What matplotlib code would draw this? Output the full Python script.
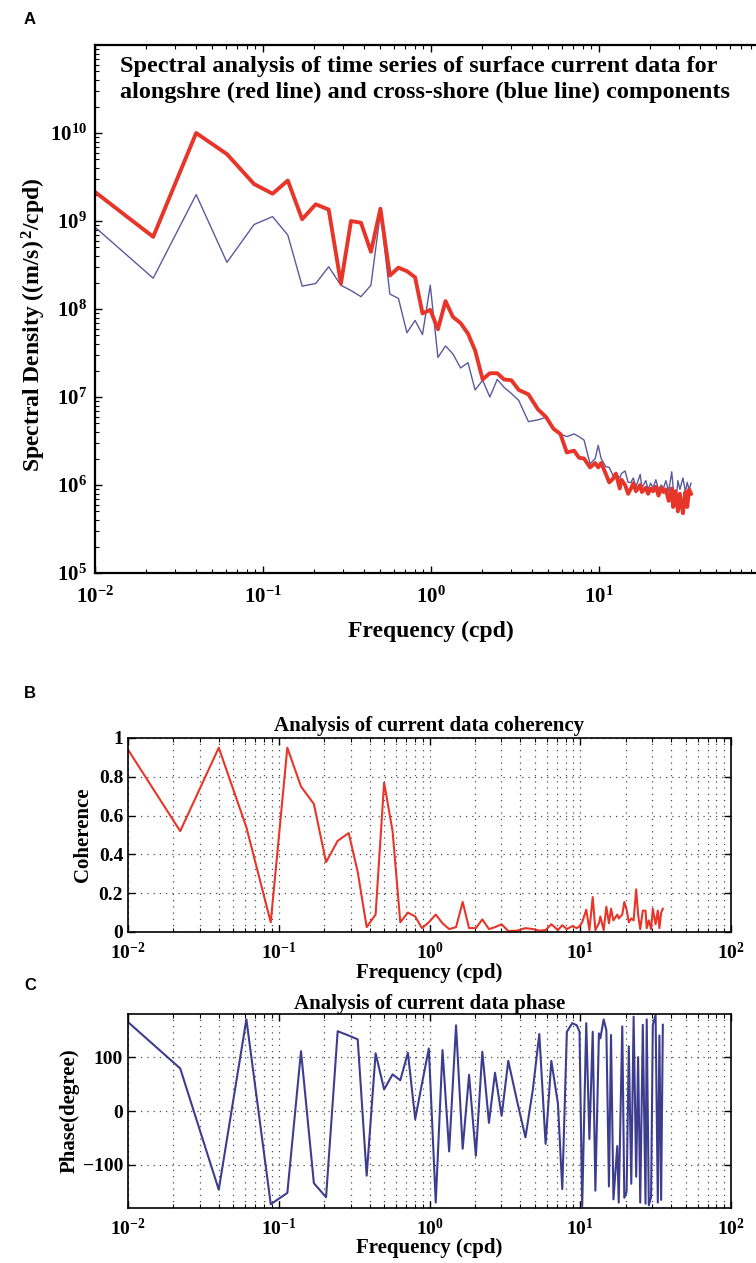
import numpy as np
import matplotlib
matplotlib.use('Agg')
from matplotlib import pyplot as plt
from matplotlib.ticker import LogLocator, NullFormatter, FixedLocator

plt.rcParams['font.family'] = ['Liberation Serif', 'DejaVu Serif']
plt.rcParams['font.weight'] = 'bold'
plt.rcParams['axes.labelweight'] = 'bold'
plt.rcParams['axes.titleweight'] = 'bold'
plt.rcParams['mathtext.fontset'] = 'custom'
plt.rcParams['mathtext.rm'] = 'Liberation Serif:bold'
plt.rcParams['mathtext.it'] = 'Liberation Serif:bold'
plt.rcParams['mathtext.bf'] = 'Liberation Serif:bold'

# frequency (cpd), shared by all three panels
freq = [0.01, 0.0222, 0.040, 0.061, 0.0885, 0.114, 0.1405, 0.171, 0.206, 0.246,
        0.291, 0.334, 0.383, 0.439, 0.50, 0.569, 0.64, 0.719, 0.804, 0.89,
        0.99, 1.10, 1.22, 1.35, 1.50, 1.66, 1.83, 2.03, 2.24, 2.48,
        2.72, 3.01, 3.33, 3.80, 4.33, 4.85, 5.35, 5.89, 6.43, 7.11,
        7.60, 8.15, 8.85, 9.49, 9.89, 10.3, 10.96, 11.5, 12.1, 12.6,
        13.3, 13.6, 14.3, 14.9, 15.5, 16.0, 16.6, 17.6, 18.0, 19.0,
        19.6, 20.3, 21.0, 21.8, 22.6, 23.5, 24.2, 25.0, 26.0, 27.1,
        27.6, 28.5, 29.5, 30.3, 31.6, 32.7, 33.5, 34.4, 35.3]

# log10 of spectral density, alongshore (red) and cross-shore (blue)
along_log10 = [9.33, 8.82, 10.0, 9.76, 9.42, 9.31, 9.46, 9.02, 9.19, 9.13,
               8.29, 9.00, 8.98, 8.65, 9.14, 8.38, 8.47, 8.43, 8.36, 7.95,
               7.99, 7.77, 8.09, 7.91, 7.84, 7.72, 7.53, 7.20, 7.27, 7.27,
               7.20, 7.19, 7.08, 7.03, 6.86, 6.77, 6.64, 6.58, 6.37, 6.39,
               6.31, 6.30, 6.20, 6.25, 6.20, 6.25, 6.13, 6.03, 6.07, 6.13,
               5.96, 6.06, 6.00, 5.90, 5.96, 6.02, 5.93, 6.00, 5.92, 5.97,
               5.90, 5.96, 5.93, 5.98, 5.88, 5.97, 5.92, 5.95, 5.82, 5.96,
               5.75, 5.93, 5.70, 5.90, 5.68, 5.92, 5.75, 5.95, 5.90]
cross_log10 = [8.93, 8.35, 9.30, 8.53, 8.96, 9.05, 8.84, 8.26, 8.29, 8.48,
               8.27, 8.21, 8.14, 8.27, 9.10, 8.17, 8.12, 7.73, 7.87, 7.71,
               8.27, 7.45, 7.58, 7.49, 7.33, 7.39, 7.08, 7.19, 7.00, 7.20,
               7.11, 7.04, 6.96, 6.72, 6.74, 6.77, 6.63, 6.58, 6.55, 6.58,
               6.55, 6.51, 6.24, 6.30, 6.45, 6.30, 6.21, 6.20, 6.11, 6.13,
               6.08, 6.13, 6.16, 6.03, 6.03, 6.08, 5.98, 6.12, 5.97, 6.05,
               5.95, 6.02, 5.97, 6.06, 5.95, 6.00, 5.96, 6.05, 5.93, 6.15,
               5.98, 5.76, 6.05, 5.95, 6.08, 5.92, 6.03, 5.95, 6.02]

coherence = [0.94, 0.52, 0.95, 0.54, 0.05, 0.95, 0.75, 0.66, 0.36, 0.47,
             0.51, 0.31, 0.025, 0.09, 0.77, 0.52, 0.05, 0.10, 0.08, 0.02,
             0.05, 0.09, 0.045, 0.015, 0.025, 0.155, 0.02, 0.02, 0.065, 0.015,
             0.025, 0.04, 0.005, 0.007, 0.02, 0.015, 0.007, 0.01, 0.04, 0.01,
             0.035, 0.015, 0.03, 0.02, 0.03, 0.05, 0.115, 0.01, 0.18, 0.01,
             0.045, 0.08, 0.01, 0.13, 0.045, 0.12, 0.06, 0.09, 0.07, 0.09,
             0.155, 0.115, 0.05, 0.07, 0.06, 0.22, 0.09, 0.015, 0.11, 0.11,
             0.02, 0.06, 0.015, 0.12, 0.04, 0.11, 0.02, 0.10, 0.12]

phase = [165, 79, -146, 170, -173, -152, 111, -134, -160, 148,
         140, 133, -120, 107, 40, 68, 57, 108, -15, 50,
         116, -170, 113, -75, 159, -70, 67, -83, 110, -22,
         71, -9, 93, 20, -49, 40, 143, -61, 93, 14,
         -145, 147, 163, 159, 147, -177, 163, -52, 147, -148,
         144, 135, 170, 150, -140, 141, -164, -65, -170, 157,
         -161, -150, 120, -135, 175, -122, 100, -170, 160, -172,
         170, -175, -160, 160, 178, -170, 140, -165, 160]

red = '#e8352a'
blue = '#3d3d8f'
W, H = 756, 1263
fig = plt.figure(figsize=(W / 100, H / 100), dpi=100)


def box(x0, y0, x1, y1):
    # pixel box (top-left origin) -> figure fraction rect
    return [x0 / W, 1 - y1 / H, (x1 - x0) / W, (y1 - y0) / H]


def matlab_ticks(ax):
    ax.tick_params(which='both', direction='in', top=True, right=True, labelsize=14)
    ax.tick_params(which='major', length=5, width=1)
    ax.tick_params(which='minor', length=3, width=0.8)
    ax.xaxis.set_minor_locator(LogLocator(base=10, subs=np.arange(2, 10), numticks=20))
    ax.xaxis.set_minor_formatter(NullFormatter())


def matlab_grid(ax):
    kw = dict(linestyle=(0, (1, 4)), color='0.3', lw=0.9)
    ax.grid(True, which='both', axis='x', **kw)
    ax.grid(True, which='major', axis='y', **kw)


# ---- A: spectra ----
axA = fig.add_axes(box(95, 45, 767, 573))
axA.plot(freq, 10 ** np.array(cross_log10), color='#5a5a9c', lw=1.0)
axA.plot(freq, 10 ** np.array(along_log10), color=red, lw=2.8)
axA.set_xscale('log')
axA.set_yscale('log')
axA.set_xlim(1e-2, 1e2)
axA.set_ylim(1e5, 1e11)
matlab_ticks(axA)
axA.xaxis.set_major_locator(FixedLocator([1e-2, 1e-1, 1e0, 1e1]))
axA.yaxis.set_major_locator(FixedLocator([1e5, 1e6, 1e7, 1e8, 1e9, 1e10]))
axA.yaxis.set_minor_locator(LogLocator(base=10, subs=np.arange(2, 10), numticks=20))
axA.yaxis.set_minor_formatter(NullFormatter())
axA.tick_params(axis='both', labelsize=15)
axA.tick_params(axis='x', pad=10)
axA.tick_params(axis='y', pad=6)
for s in axA.spines.values():
    s.set_linewidth(1.6)
axA.set_xlabel('Frequency (cpd)', fontsize=17, labelpad=9)
axA.set_ylabel('Spectral Density ((m/s)$^{\\,2}$/cpd)', fontsize=17)
axA.yaxis.set_label_coords(-0.070, 0.47)
fig.text(120 / W, 1 - 56 / H,
         'Spectral analysis of time series of surface current data for\n'
         'alongshre (red line) and cross-shore (blue line) components',
         fontsize=17.5, ha='left', va='top', linespacing=1.3)

# ---- B: coherence ----
axB = fig.add_axes(box(128, 738, 731, 932))
axB.plot(freq, coherence, color=red, lw=1.5)
axB.set_xscale('log')
axB.set_xlim(1e-2, 1e2)
axB.set_ylim(0, 1)
axB.set_yticks([0, 0.2, 0.4, 0.6, 0.8, 1])
axB.set_yticklabels(['0', '0.2', '0.4', '0.6', '0.8', '1'])
matlab_ticks(axB)
axB.tick_params(axis='x', pad=7)
matlab_grid(axB)
axB.set_title('Analysis of current data coherency', fontsize=15, pad=5)
axB.set_xlabel('Frequency (cpd)', fontsize=15, labelpad=0)
axB.set_ylabel('Coherence', fontsize=15, labelpad=4)

# ---- C: phase ----
axC = fig.add_axes(box(128, 1014, 731, 1208))
axC.plot(freq, phase, color=blue, lw=1.5)
axC.set_xscale('log')
axC.set_xlim(1e-2, 1e2)
axC.set_ylim(-180, 180)
axC.set_yticks([-100, 0, 100])
matlab_ticks(axC)
axC.tick_params(axis='x', pad=7)
matlab_grid(axC)
axC.set_title('Analysis of current data phase', fontsize=15, pad=3)
axC.set_xlabel('Frequency (cpd)', fontsize=15, labelpad=-1)
axC.set_ylabel('Phase(degree)', fontsize=15, labelpad=2)

for ax in (axB, axC):
    for s in ax.spines.values():
        s.set_linewidth(1.2)

for lab, y in (('A', 20), ('B', 693), ('C', 985)):
    fig.text(30 / W, 1 - y / H, lab, family='Liberation Sans', fontweight='bold',
             fontsize=12, ha='center', va='center')

plt.savefig('out.png', dpi=100)
